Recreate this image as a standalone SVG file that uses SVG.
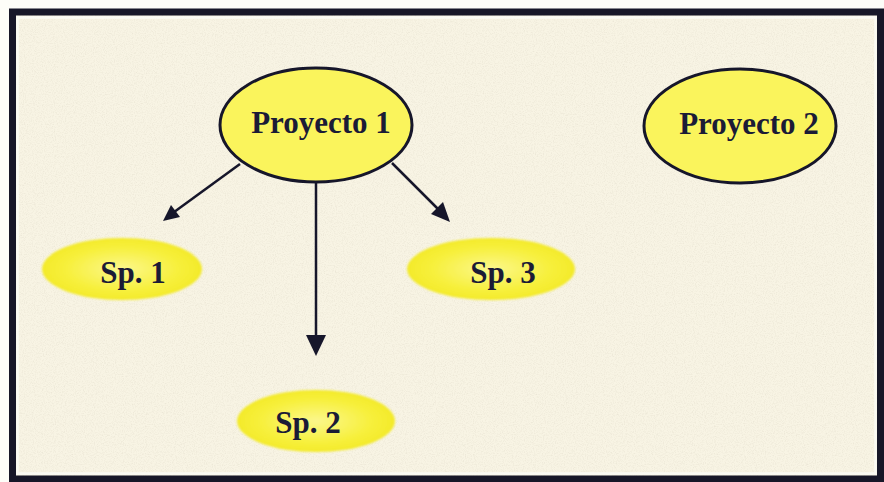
<svg xmlns="http://www.w3.org/2000/svg" width="884" height="482" viewBox="0 0 884 482">
  <style>
    .proj { fill: #faf45c; stroke: #16162a; stroke-width: 3; }
    .sp { fill: url(#spFill); filter: url(#soft); }
    .label { font-family: "Liberation Serif", "Times New Roman", serif; font-weight: bold; fill: #1b1b36; text-anchor: middle; font-size: 31px; }
    .edge { stroke: #16162a; stroke-width: 2.5; fill: none; }
    .head { fill: #16162a; }
  </style>
  <defs>
    <radialGradient id="spFill" cx="50%" cy="50%" r="50%">
      <stop offset="0" stop-color="#fbf78c"/>
      <stop offset="0.7" stop-color="#f7f03c"/>
      <stop offset="1" stop-color="#f3ea2a"/>
    </radialGradient>
    <filter id="soft" x="-10%" y="-20%" width="120%" height="140%">
      <feGaussianBlur stdDeviation="1.2"/>
    </filter>
    <!-- speckled paper texture -->
    <filter id="grain" x="0" y="0" width="100%" height="100%">
      <feTurbulence type="fractalNoise" baseFrequency="0.9" numOctaves="2" seed="4" result="n"/>
      <feColorMatrix in="n" type="matrix" values="0 0 0 0 0.55  0 0 0 0 0.5  0 0 0 0 0.4  0 0 0 -2.2 1.25" result="g"/>
      <feComposite in="g" in2="SourceGraphic" operator="in"/>
    </filter>
  </defs>

  <!-- page and background -->
  <rect x="0" y="0" width="884" height="482" fill="#fdfdf8"/>
  <rect x="12" y="12" width="868" height="467" fill="#f8f4e4"/>
  <rect x="12" y="12" width="868" height="467" fill="#f8f4e4" filter="url(#grain)" opacity="0.22"/>

  <!-- frame: heavy outer rule with a thin light inner line -->
  <rect x="12.5" y="12" width="868" height="467" fill="none" stroke="#171728" stroke-width="7"/>
  <rect x="17.5" y="17.5" width="858" height="456" fill="none" stroke="#fbfbf4" stroke-width="2.5"/>

  <g id="connectors">
    <line class="edge" x1="240" y1="164" x2="170" y2="215"/>
    <path class="head" d="M163,221 L171,205 L180,217 z"/>
    <line class="edge" x1="316" y1="183" x2="316" y2="338"/>
    <path class="head" d="M306,335 L326,335 L316,356 z"/>
    <line class="edge" x1="392" y1="163" x2="440" y2="211"/>
    <path class="head" d="M450,222 L431,214 L443,202 z"/>
  </g>

  <g id="proyecto1">
    <ellipse class="proj" cx="316" cy="125" rx="96" ry="57"/>
    <text class="label" x="321" y="133">Proyecto 1</text>
  </g>

  <g id="proyecto2">
    <ellipse class="proj" cx="740" cy="126" rx="96" ry="57"/>
    <text class="label" x="749" y="134">Proyecto 2</text>
  </g>

  <g id="sp1">
    <ellipse class="sp" cx="122" cy="269" rx="80" ry="31"/>
    <text class="label" x="133" y="283">Sp. 1</text>
  </g>

  <g id="sp2">
    <ellipse class="sp" cx="316" cy="421" rx="79" ry="31"/>
    <text class="label" x="308" y="433">Sp. 2</text>
  </g>

  <g id="sp3">
    <ellipse class="sp" cx="491" cy="269" rx="84" ry="31"/>
    <text class="label" x="503" y="283">Sp. 3</text>
  </g>
</svg>
